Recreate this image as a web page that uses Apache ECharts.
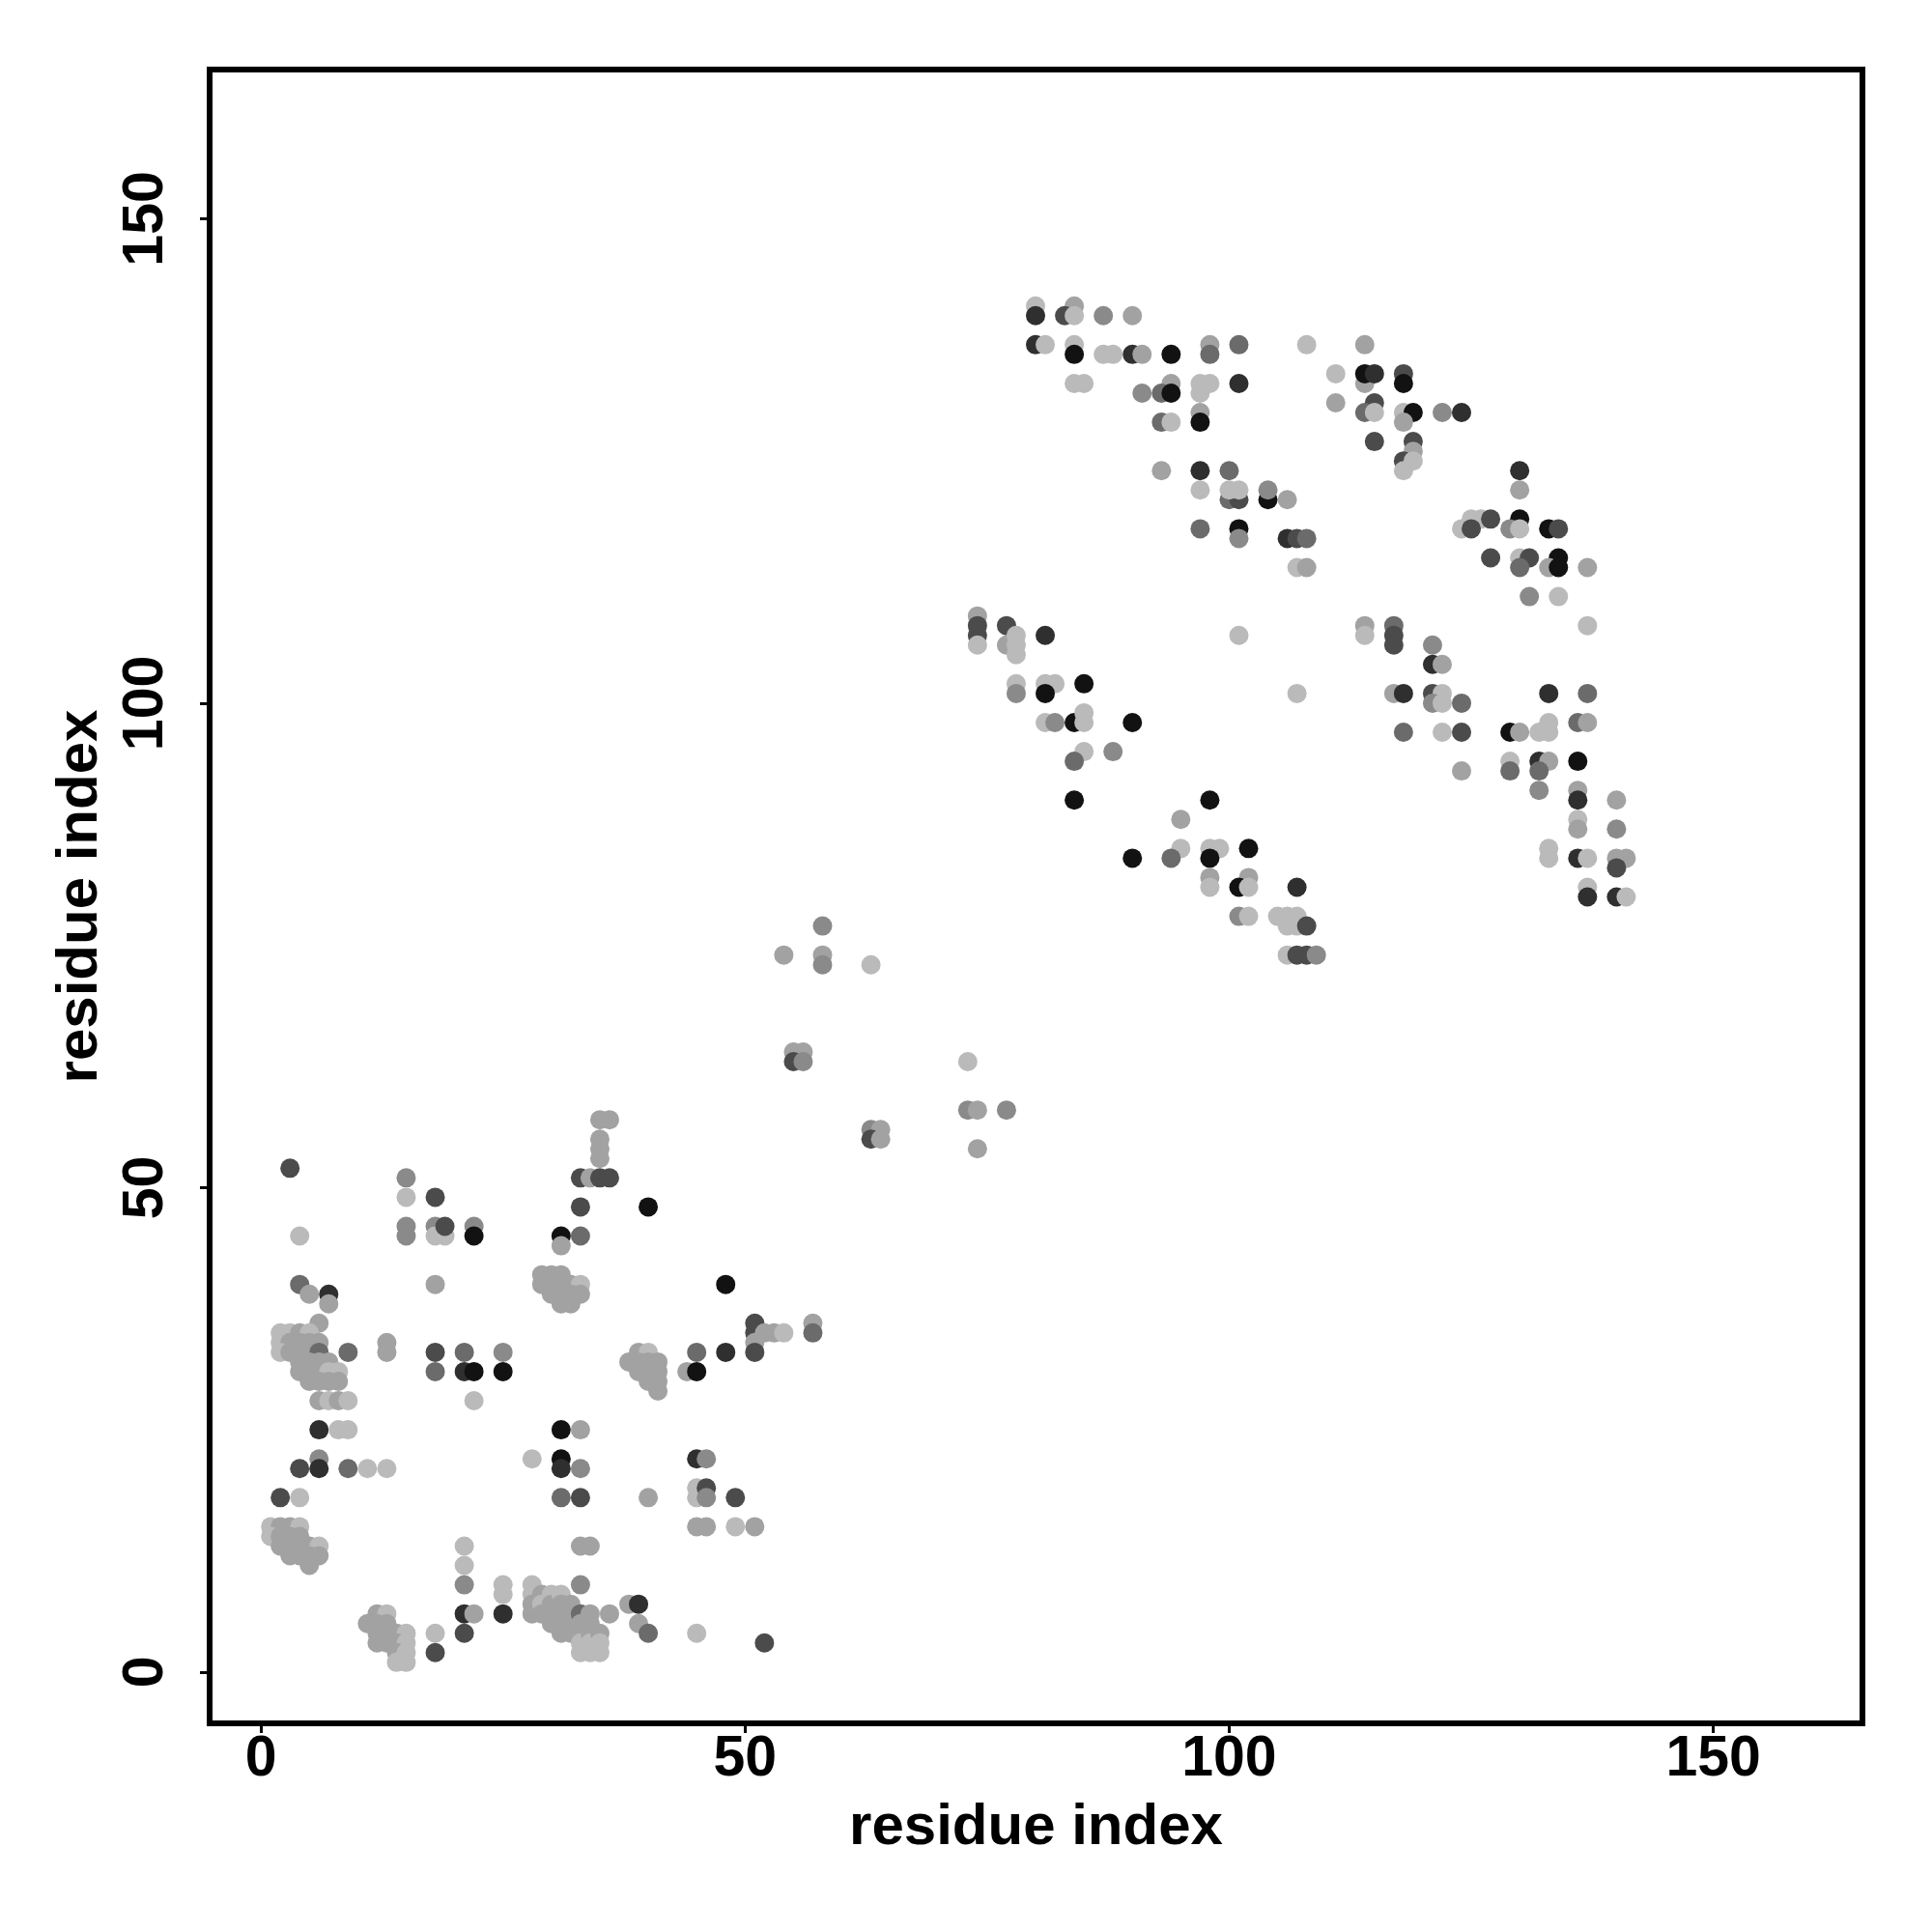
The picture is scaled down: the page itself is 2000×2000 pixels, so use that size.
<!DOCTYPE html>
<html>
<head>
<meta charset="utf-8">
<script src="https://cdn.jsdelivr.net/npm/echarts@6/dist/echarts.min.js"></script>
<style>
html,body{margin:0;padding:0;background:#fff;}
#chart{width:2000px;height:2000px;}
</style>
</head>
<body>
<div id="chart"></div>
<script>
// axis settings
const xTicks = [0, 50, 100, 150];
const yTicks = [0, 50, 100, 150];
const axisMin = -5.3, axisMax = 165.4;
const xTitle = 'residue index';
const yTitle = 'residue index';

// grey shade per level (0 = black ... 6 = light grey)
const shadePalette = ['#121212', '#2f2f2f', '#4b4b4b', '#6b6b6b', '#8a8a8a', '#a2a2a2', '#bababa'];

// contacts: [residue i, residue j, shade level]
const lowerLeftContacts = [
  [6,25,1],[8,25,6],[9,25,6],[6,22,4],[4,21,2],[6,21,1],[9,21,3],[11,21,6],[13,21,6],[28,22,6],[2,18,2],[4,18,6],
  [1,15,6],[2,15,5],[3,15,5],[4,15,6],[1,14,6],[2,14,5],[3,14,5],[4,14,5],[2,13,5],[3,13,5],[4,13,5],[5,13,5],[6,13,6],[3,12,5],[4,12,5],[5,12,5],[6,12,5],[5,11,5],
  [21,13,6],[21,11,6],[21,9,4],[21,6,1],[21,4,2],[22,6,5],[25,6,1],[25,9,6],[25,8,6],[18,4,6],[18,2,2],
  [12,6,5],[13,6,6],[11,5,5],[12,5,5],[13,5,5],[12,4,5],[13,4,5],[14,4,5],[15,4,6],[12,3,5],[13,3,5],[14,3,5],[15,3,6],[14,2,5],[15,2,6],[14,1,6],[15,1,6],
  [31,25,0],[33,25,5],[31,22,0],[31,21,1],[33,21,4],[45,22,1],[46,22,4],
  [31,18,3],[33,18,2],[40,18,5],[45,19,6],[45,18,6],[46,19,2],[46,18,4],[49,18,2],
  [45,15,5],[46,15,5],[49,15,6],[51,15,5],[33,13,5],[34,13,5],[33,9,4],
  [28,9,6],[28,8,6],[28,7,5],[28,6,5],[29,8,5],[29,7,6],[29,6,5],[30,8,6],[30,7,5],[30,6,5],[30,5,5],[31,8,6],[31,7,5],[31,6,5],[31,5,5],[31,4,5],
  [32,7,5],[32,6,5],[32,5,5],[32,4,5],[33,6,3],[33,5,5],[33,4,5],[33,3,6],[33,2,6],[34,6,5],[34,5,5],[34,4,5],[34,3,6],[34,2,6],[35,4,5],[35,3,6],[35,2,6],[36,6,5],
  [38,7,5],[39,7,1],[39,5,5],[40,4,3],[45,4,6],[52,3,2],
  [3,52,2],[15,51,4],[15,49,6],[18,49,2],[15,46,4],[15,45,4],[18,46,4],[18,45,6],[19,45,6],[19,46,2],[22,46,4],[22,45,0],
  [4,45,6],[18,40,5],[4,40,3],[5,39,5],[7,39,1],[7,38,5],[6,36,5],
  [2,35,6],[3,35,6],[4,35,5],[5,35,6],[2,34,6],[3,34,5],[4,34,5],[5,34,5],[2,33,6],[3,33,5],[4,33,5],[5,33,5],[6,34,5],[6,33,3],
  [4,32,5],[5,32,5],[6,32,5],[7,32,5],[4,31,5],[5,31,5],[6,31,5],[7,31,6],[8,31,6],[5,30,5],[6,30,5],[7,30,5],[8,30,5],[6,28,5],[7,28,6],[8,28,5],[9,28,6],
  [9,33,3],[13,34,5],[13,33,5],[18,33,2],[18,31,3],[21,33,3],[21,31,1],[22,31,0],[25,33,4],[25,31,0],[22,28,6],
  [35,57,5],[36,57,5],[35,55,5],[35,54,5],[35,53,5],[33,51,2],[34,51,5],[35,51,2],[36,51,2],
  [33,48,2],[40,48,0],[31,45,0],[31,44,5],[33,45,3],
  [29,41,5],[30,41,5],[31,41,5],[29,40,5],[30,40,5],[31,40,5],[32,40,5],[33,40,6],[30,39,5],[31,39,5],[32,39,5],[33,39,5],[31,38,5],[32,38,5],
  [48,40,0],[51,36,2],[51,35,2],[51,34,5],[51,33,2],[52,35,5],[53,35,5],[54,35,6],[57,36,5],[57,35,3],
  [45,33,3],[48,33,1],[44,31,5],[45,31,0],
  [38,32,5],[39,33,5],[40,33,6],[39,32,5],[40,32,5],[41,32,5],[39,31,5],[40,31,5],[41,31,5],[40,30,5],[41,30,5],[41,29,5]
];

const middleContacts = [
  [58,77,4],[54,74,5],[58,74,5],[58,73,4],[63,73,6],
  [55,64,5],[56,64,5],[55,63,2],[56,63,4],
  [63,56,4],[64,56,5],[63,55,2],[64,55,5],
  [73,63,6],[73,58,4],[74,58,5],[77,58,4],[74,54,5]
];

const upperRightContacts = [
  [80,141,6],[84,141,5],[80,140,1],[83,140,2],[84,140,6],[87,140,4],[90,140,5],
  [80,137,1],[81,137,6],[84,137,6],[98,137,5],[101,137,3],[108,137,6],
  [84,136,0],[87,136,6],[88,136,6],[90,136,1],[91,136,5],[94,136,0],[98,136,3],
  [84,133,6],[85,133,6],[94,133,5],[97,133,6],[98,133,6],[101,133,1],
  [91,132,4],[93,132,3],[94,132,0],[97,132,6],
  [97,130,5],[93,129,3],[94,129,6],[97,129,0],
  [93,124,5],[97,124,1],[100,124,3],
  [100,121,3],[101,121,2],[104,121,0],[106,121,5],
  [97,122,6],[100,122,6],[101,122,6],[104,122,4],
  [97,118,3],[101,118,0],[101,117,4],[106,117,1],[107,117,2],[108,117,3],
  [107,114,6],[108,114,5],
  [114,137,5],[111,134,6],[114,133,5],[114,134,0],[115,134,1],[118,134,2],[118,133,0],
  [111,131,5],[115,131,2],[114,130,3],[115,130,6],[118,130,6],[119,130,0],[122,130,4],[124,130,1],
  [118,129,5],[115,127,2],[119,127,2],[119,126,5],[118,125,2],[119,125,6],[118,124,6],
  [130,124,1],[130,122,5],
  [125,119,6],[126,119,6],[127,119,2],[130,119,0],
  [124,118,6],[125,118,2],[129,118,4],[130,118,6],[133,118,0],[134,118,2],
  [127,115,2],[130,115,6],[131,115,2],[134,115,0],
  [130,114,3],[133,114,5],[134,114,0],[137,114,5],
  [131,111,4],[134,111,6],
  [74,109,5],[74,108,2],[74,107,2],[74,106,6],
  [77,108,2],[77,106,5],[78,107,6],[78,106,6],[78,105,6],
  [81,107,1],[101,107,6],
  [78,102,6],[81,102,6],[82,102,6],[85,102,0],
  [78,101,4],[81,101,0],[107,101,6],
  [81,98,6],[82,98,4],[84,98,0],[85,98,6],[85,99,6],[90,98,0],
  [85,95,6],[88,95,4],[84,94,3],
  [84,90,0],[98,90,0],[95,88,5],
  [95,85,6],[98,85,6],[99,85,6],[102,85,0],
  [90,84,0],[94,84,3],[98,84,0],
  [98,82,5],[102,82,5],[98,81,6],[101,81,0],[102,81,6],[107,81,1],
  [101,78,4],[102,78,6],[105,78,6],[106,78,6],[107,78,6],
  [106,77,6],[107,77,6],[108,77,2],
  [106,74,6],[107,74,2],[108,74,2],[109,74,4],
  [114,108,5],[114,107,6],[117,108,3],[117,107,2],[117,106,2],[137,108,6],
  [121,106,4],[121,104,1],[122,104,5],
  [117,101,5],[118,101,1],[121,101,2],[122,101,6],[133,101,1],[137,101,3],
  [121,100,4],[122,100,6],[124,100,3],
  [133,98,6],[136,98,3],[137,98,5],
  [118,97,3],[122,97,6],[124,97,2],[129,97,0],[130,97,5],[132,97,6],[133,97,6],
  [129,94,6],[132,94,1],[133,94,5],[136,94,0],
  [124,93,5],[129,93,3],[132,93,3],
  [132,91,4],[136,91,5],[136,90,1],[140,90,5],
  [136,88,6],[136,87,5],[140,87,4],
  [133,85,6],[133,84,6],[136,84,1],[137,84,6],[140,84,5],[141,84,5],[140,83,2],
  [137,81,6],[137,80,1],[140,80,1],[141,80,6]
];

const allContacts = lowerLeftContacts.concat(middleContacts, upperRightContacts);

const FONT = 'Liberation Sans';
const chart = echarts.init(document.getElementById('chart'), null, {renderer: 'canvas'});
chart.setOption({
  animation: false,
  backgroundColor: '#ffffff',
  grid: {
    left: 217, right: 72, top: 72, bottom: 216,
    show: true, borderColor: '#000', borderWidth: 6, backgroundColor: '#fff',
    containLabel: false
  },
  xAxis: {
    type: 'value', min: axisMin, max: axisMax,
    name: xTitle, nameLocation: 'middle', nameGap: 78,
    nameTextStyle: {fontFamily: FONT, fontWeight: 'bold', fontSize: 60, color: '#000'},
    axisLine: {show: false, onZero: false},
    splitLine: {show: false},
    axisTick: {show: true, customValues: xTicks, length: 10, inside: false, lineStyle: {color: '#000', width: 3}},
    axisLabel: {customValues: xTicks, margin: 8, fontFamily: FONT, fontWeight: 'bold', fontSize: 59, color: '#000'}
  },
  yAxis: {
    type: 'value', min: axisMin, max: axisMax,
    name: yTitle, nameLocation: 'middle', nameGap: 104, nameRotate: 90,
    nameTextStyle: {fontFamily: FONT, fontWeight: 'bold', fontSize: 60, color: '#000'},
    axisLine: {show: false, onZero: false},
    splitLine: {show: false},
    axisTick: {show: true, customValues: yTicks, length: 10, inside: false, lineStyle: {color: '#000', width: 3}},
    axisLabel: {customValues: yTicks, rotate: 90, margin: 36, fontFamily: FONT, fontWeight: 'bold', fontSize: 59, color: '#000'}
  },
  series: [{
    type: 'scatter',
    data: allContacts,
    symbol: 'circle',
    symbolSize: 20,
    itemStyle: {
      opacity: 1,
      color: p => shadePalette[p.data[2]]
    },
    emphasis: {disabled: true}
  }]
});
</script>
</body>
</html>
